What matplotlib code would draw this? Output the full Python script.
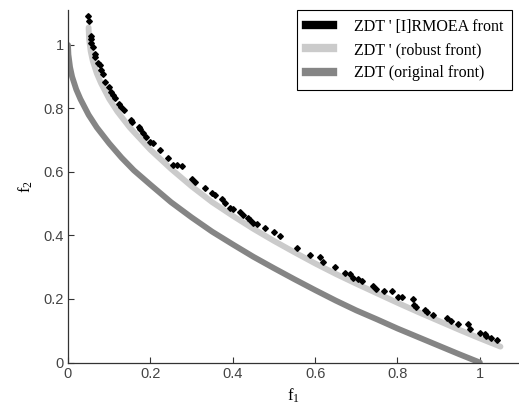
import matplotlib
matplotlib.use('Agg')
import matplotlib.pyplot as plt
from matplotlib.lines import Line2D

# original ZDT front
orig_f1 = [0.0, 0.001, 0.005, 0.01, 0.02, 0.03, 0.05, 0.07, 0.10, 0.13, 0.16, 0.20,
           0.25, 0.30, 0.35, 0.40, 0.45, 0.50, 0.55, 0.60, 0.65, 0.70, 0.75, 0.80,
           0.85, 0.90, 0.95, 1.0]
orig_f2 = [1.0, 0.97, 0.93, 0.90, 0.86, 0.83, 0.78, 0.74, 0.69, 0.645, 0.605, 0.56,
           0.505, 0.457, 0.412, 0.372, 0.333, 0.297, 0.262, 0.228, 0.195, 0.164, 0.136, 0.107,
           0.080, 0.053, 0.026, 0.0]

# robust front
rob_f1 = [0.05, 0.051, 0.055, 0.06, 0.07, 0.08, 0.10, 0.12, 0.15, 0.20, 0.25, 0.30,
          0.35, 0.40, 0.45, 0.50, 0.55, 0.60, 0.65, 0.70, 0.75, 0.80, 0.85, 0.90,
          0.95, 1.00, 1.05]
rob_f2 = [1.055, 1.02, 0.98, 0.95, 0.91, 0.88, 0.83, 0.79, 0.74, 0.67, 0.61, 0.555,
          0.505, 0.462, 0.421, 0.383, 0.347, 0.312, 0.279, 0.248, 0.218, 0.188, 0.159, 0.131,
          0.103, 0.076, 0.050]

# [I]RMOEA solutions
rmoea_f1 = [0.049, 0.052, 0.055, 0.056, 0.057, 0.060, 0.066, 0.066, 0.074, 0.078, 0.079,
            0.084, 0.090, 0.100, 0.104, 0.110, 0.114, 0.125, 0.129, 0.135, 0.152, 0.155,
            0.172, 0.175, 0.183, 0.189, 0.199, 0.207, 0.223, 0.243, 0.256, 0.264, 0.276,
            0.300, 0.308, 0.333, 0.349, 0.357, 0.373, 0.381, 0.393, 0.401, 0.417, 0.426,
            0.438, 0.442, 0.448, 0.458, 0.478, 0.500, 0.515, 0.555, 0.587, 0.612, 0.620,
            0.648, 0.672, 0.684, 0.692, 0.705, 0.715, 0.741, 0.749, 0.767, 0.787, 0.802,
            0.810, 0.838, 0.841, 0.845, 0.867, 0.872, 0.885, 0.919, 0.929, 0.947, 0.972,
            0.977, 1.000, 1.012, 1.016, 1.028, 1.041]
rmoea_f2 = [1.092, 1.076, 1.028, 1.018, 1.007, 0.995, 0.971, 0.963, 0.942, 0.937, 0.921,
            0.909, 0.884, 0.867, 0.853, 0.843, 0.832, 0.814, 0.806, 0.795, 0.764, 0.758,
            0.741, 0.734, 0.722, 0.709, 0.695, 0.690, 0.669, 0.643, 0.622, 0.622, 0.619,
            0.577, 0.569, 0.549, 0.533, 0.528, 0.514, 0.501, 0.488, 0.482, 0.475, 0.465,
            0.454, 0.449, 0.440, 0.436, 0.423, 0.410, 0.398, 0.360, 0.339, 0.333, 0.317,
            0.302, 0.283, 0.279, 0.265, 0.262, 0.257, 0.241, 0.231, 0.225, 0.226, 0.205,
            0.205, 0.199, 0.181, 0.176, 0.165, 0.160, 0.150, 0.139, 0.131, 0.120, 0.121,
            0.105, 0.094, 0.089, 0.083, 0.078, 0.071]

ticks = [0, 0.2, 0.4, 0.6, 0.8, 1]
tick_labels = ['0', '0.2', '0.4', '0.6', '0.8', '1']
legend_labels = ["ZDT ' [I]RMOEA front", "ZDT ' (robust front)", "ZDT (original front)"]
legend_colors = ['black', '#cbcbcb', '#858585']

W, H = 519, 416
fig = plt.figure(figsize=(W / 100, H / 100), dpi=100)
ax = fig.add_axes([68 / W, 53.5 / H, 451 / W, 352.5 / H])

ax.plot(orig_f1, orig_f2, color='#858585', lw=4.2, solid_capstyle='round', zorder=2)
ax.plot(rob_f1, rob_f2, color='#cbcbcb', lw=4.2, solid_capstyle='round', zorder=2)
ax.plot(rmoea_f1, rmoea_f2, ls='none', marker='D', ms=2.9, color='black', zorder=3)

ax.set_xlim(0, 1.095)
ax.set_ylim(0, 1.11)
ax.set_xticks(ticks)
ax.set_xticklabels(tick_labels)
ax.set_yticks(ticks)
ax.set_yticklabels(tick_labels)
ax.tick_params(direction='in', length=4, width=0.8, color='#333333',
               labelsize=10.5, labelcolor='#444444', pad=3)
for lab in ax.get_xticklabels() + ax.get_yticklabels():
    lab.set_family('Liberation Sans')
for s in ['top', 'right']:
    ax.spines[s].set_visible(False)
for s in ['left', 'bottom']:
    ax.spines[s].set_color('#333333')
    ax.spines[s].set_linewidth(0.9)

ax.set_xlabel(r'$\mathregular{f_1}$', family='Liberation Serif', fontsize=12, labelpad=4)
ax.set_ylabel(r'$\mathregular{f_2}$', family='Liberation Serif', fontsize=12, labelpad=6)

# legend drawn as thick bars like the original
handles = [Line2D([], [], color=c, lw=6) for c in legend_colors]
leg = ax.legend(handles, legend_labels, loc='upper right', bbox_to_anchor=(0.984, 1.0),
                prop={'family': 'Liberation Serif', 'size': 11.5},
                fancybox=False, edgecolor='black', framealpha=1,
                handlelength=1.7, handletextpad=1.3, labelspacing=0.45,
                borderpad=0.55, borderaxespad=0)
leg.get_frame().set_linewidth(0.8)

fig.savefig('out.png', dpi=100)
